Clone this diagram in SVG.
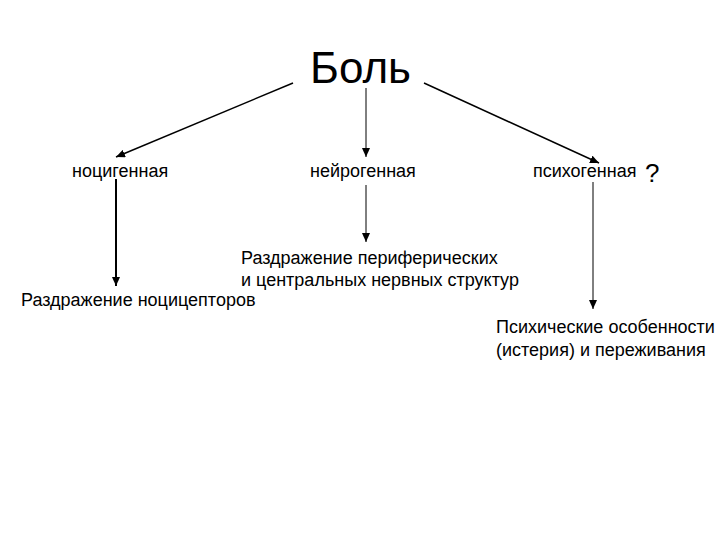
<svg xmlns="http://www.w3.org/2000/svg" width="720" height="540" viewBox="0 0 720 540">
<style>
text{font-family:"Liberation Sans",Arial,sans-serif;fill:#000}
.t{font-size:18px}
.c line{stroke:#000;fill:none}
</style>
<defs>
<marker id="ah" markerUnits="userSpaceOnUse" markerWidth="10" markerHeight="8" refX="9" refY="4" orient="auto">
<path d="M0,0 L9,4 L0,8 Z" fill="#000"/>
</marker>
</defs>
<rect width="720" height="540" fill="#fff"/>
<g id="connectors" class="c">
<line x1="293" y1="83" x2="116" y2="157" stroke-width="1.5" marker-end="url(#ah)"/>
<line x1="366" y1="88" x2="366" y2="157" stroke-width="1" marker-end="url(#ah)"/>
<line x1="424" y1="83" x2="599" y2="163" stroke-width="1.5" marker-end="url(#ah)"/>
<line x1="116" y1="179" x2="116" y2="286" stroke-width="2" marker-end="url(#ah)"/>
<line x1="366" y1="185" x2="366" y2="242" stroke-width="1" marker-end="url(#ah)"/>
<line x1="593" y1="182" x2="593" y2="309" stroke-width="1" marker-end="url(#ah)"/>
</g>
<g id="node-bol"><text x="310" y="83" font-size="44">Боль</text></g>
<g id="node-nociceptive"><text class="t" x="72" y="177">ноцигенная</text></g>
<g id="node-neurogenic"><text class="t" x="310" y="177">нейрогенная</text></g>
<g id="node-psychogenic"><text class="t" x="533" y="177">психогенная</text><text x="645" y="182" font-size="26">?</text></g>
<g id="node-nociceptors"><text class="t" x="21" y="306">Раздражение ноцицепторов</text></g>
<g id="node-structures"><text class="t" x="241" y="264">Раздражение периферических</text><text class="t" x="241" y="286">и центральных нервных структур</text></g>
<g id="node-psychic"><text class="t" x="496" y="333">Психические особенности</text><text class="t" x="496" y="356">(истерия) и переживания</text></g>
</svg>
